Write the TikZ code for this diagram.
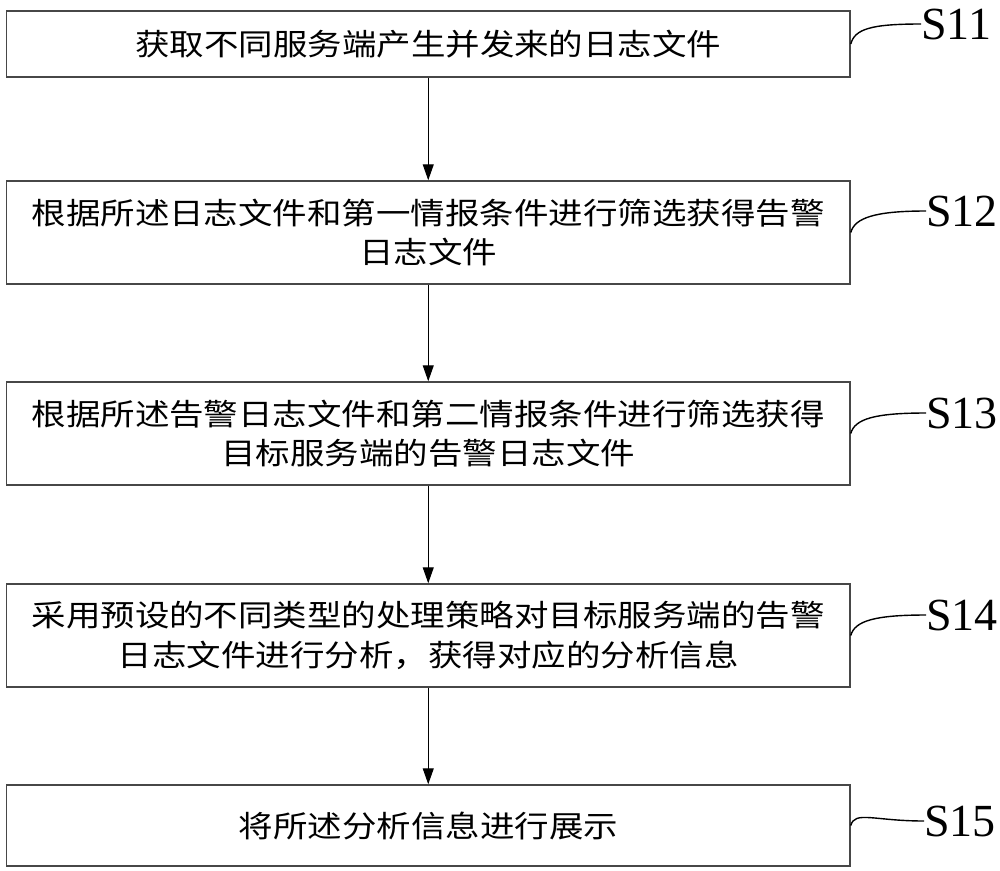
\documentclass[tikz,border=0pt]{standalone}
\usepackage{fontspec}
\usetikzlibrary{arrows.meta}
\newfontfamily\cjk[FakeStretch=1.15]{Noto Sans CJK SC}
\newfontfamily\labfont{Liberation Serif}
\begin{document}
\begin{tikzpicture}[x=1pt,y=-1pt,
  stepbox/.style={draw=black!72, line width=1.5pt, minimum width=843.5pt, inner sep=0pt, align=center,
    font=\cjk\fontsize{30}{39.5}\selectfont},
  steplabel/.style={anchor=west, inner sep=0pt, font=\labfont\fontsize{46}{46}\selectfont},
  arr/.style={line width=1pt, -{Triangle[width=11pt,length=16pt]}},
  lead/.style={line width=1.4pt}]
\useasboundingbox (0,0) rectangle (1000,870);
\node[stepbox, minimum height=66pt] (b1) at (428.25,44) {获取不同服务端产生并发来的日志文件};
\node[stepbox, minimum height=103pt] (b2) at (428.25,232.5) {根据所述日志文件和第一情报条件进行筛选获得告警\\日志文件};
\node[stepbox, minimum height=103pt] (b3) at (428.25,433.5) {根据所述告警日志文件和第二情报条件进行筛选获得\\目标服务端的告警日志文件};
\node[stepbox, minimum height=103pt] (b4) at (428.25,635.5) {采用预设的不同类型的处理策略对目标服务端的告警\\日志文件进行分析，获得对应的分析信息};
\node[stepbox, minimum height=81pt] (b5) at (428.25,825.5) {将所述分析信息进行展示};
\draw[arr] (b1) -- (b2);
\draw[arr] (b2) -- (b3);
\draw[arr] (b3) -- (b4);
\draw[arr] (b4) -- (b5);
\node[steplabel] (l1) at (921,24) {S11};
\node[steplabel] (l2) at (926,211) {S12};
\node[steplabel] (l3) at (926,413) {S13};
\node[steplabel] (l4) at (926,615) {S14};
\node[steplabel] (l5) at (924,821) {S15};
\draw[lead] (b1.east) .. controls +(4,-15) and +(-50,0) .. (l1.west);
\draw[lead] (b2.east) .. controls +(4,-15) and +(-50,0) .. (l2.west);
\draw[lead] (b3.east) .. controls +(4,-15) and +(-50,0) .. (l3.west);
\draw[lead] (b4.east) .. controls +(4,-15) and +(-50,0) .. (l4.west);
\draw[lead] (b5.east) .. controls +(4,-15) and +(-50,0) .. (l5.west);
\end{tikzpicture}
\end{document}
